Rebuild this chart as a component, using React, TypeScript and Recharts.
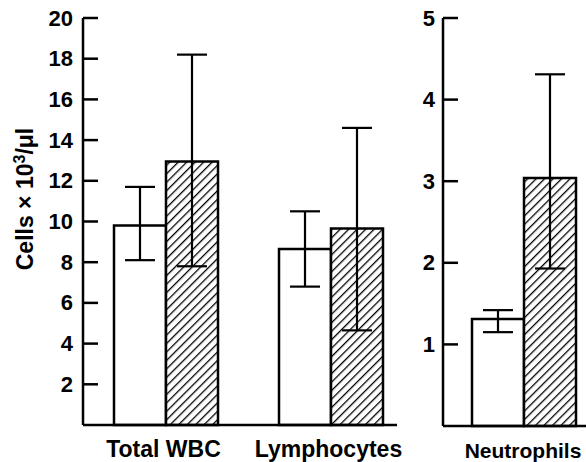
import { BarChart, Bar, XAxis, YAxis, ErrorBar } from 'recharts';

// left panel (x 10^3/µl)
const leftCategories = ['Total WBC', 'Lymphocytes'];
const leftControlMean = [9.8, 8.65];
const leftControlLow = [8.1, 6.8];
const leftControlHigh = [11.7, 10.5];
const leftTreatedMean = [12.95, 9.65];
const leftTreatedLow = [7.8, 4.65];
const leftTreatedHigh = [18.2, 14.6];
const leftTicks = [2, 4, 6, 8, 10, 12, 14, 16, 18, 20];

// right panel
const rightCategories = ['Neutrophils'];
const rightControlMean = [1.31];
const rightControlLow = [1.15];
const rightControlHigh = [1.42];
const rightTreatedMean = [3.04];
const rightTreatedLow = [1.93];
const rightTreatedHigh = [4.31];
const rightTicks = [1, 2, 3, 4, 5];

const FONT = '"Liberation Sans", Arial, Helvetica, sans-serif';

const buildRows = (
  cats: string[],
  cm: number[], cl: number[], ch: number[],
  tm: number[], tl: number[], th: number[]
) =>
  cats.map((name, i) => ({
    name,
    control: cm[i],
    controlErr: [cm[i] - cl[i], ch[i] - cm[i]],
    treated: tm[i],
    treatedErr: [tm[i] - tl[i], th[i] - tm[i]],
  }));

const leftData = buildRows(leftCategories, leftControlMean, leftControlLow, leftControlHigh, leftTreatedMean, leftTreatedLow, leftTreatedHigh);
const rightData = buildRows(rightCategories, rightControlMean, rightControlLow, rightControlHigh, rightTreatedMean, rightTreatedLow, rightTreatedHigh);

const makeYTick = (gap: number) => (props: any) => {
  const { x, y, payload } = props;
  return (
    <g>
      <line x1={x} y1={y} x2={x + 15} y2={y} stroke="#000" strokeWidth={2.5} />
      <text x={x - gap} y={y} dy={7.5} textAnchor="end" fontFamily={FONT} fontWeight="bold" fontSize={22} fill="#000">
        {payload.value}
      </text>
    </g>
  );
};

const makeXTick = (shift: number, size: number) => (props: any) => {
  const { x, y, payload } = props;
  return (
    <text x={x + shift} y={y + 32} textAnchor="middle" fontFamily={FONT} fontWeight="bold" fontSize={size} fill="#000">
      {payload.value}
    </text>
  );
};

const Hatch = ({ id }: { id: string }) => (
  <defs>
    <pattern id={id} patternUnits="userSpaceOnUse" width={6} height={6} patternTransform="rotate(45)">
      <rect width={6} height={6} fill="#fff" />
      <line x1={0} y1={0} x2={0} y2={6} stroke="#000" strokeWidth={2.6} />
    </pattern>
  </defs>
);

const Panel = ({ data, id, width, height, margin, yWidth, domain, ticks, gap, padding, shift, labelSize }: any) => (
  <BarChart width={width} height={height} data={data} margin={margin} barGap={0} barSize={52} style={{ overflow: 'visible' }}>
    <Hatch id={id} />
    <XAxis
      dataKey="name"
      height={30}
      padding={padding}
      axisLine={{ stroke: '#000', strokeWidth: 2.5 }}
      tickLine={false}
      tickSize={0}
      tickMargin={0}
      tick={makeXTick(shift, labelSize)}
      interval={0}
    />
    <YAxis
      width={yWidth}
      domain={domain}
      ticks={ticks}
      axisLine={{ stroke: '#000', strokeWidth: 2.5 }}
      tickLine={false}
      tickSize={0}
      tickMargin={0}
      tick={makeYTick(gap)}
      interval={0}
    />
    <Bar dataKey="control" fill="#fff" stroke="#000" strokeWidth={2.5} isAnimationActive={false}>
      <ErrorBar dataKey="controlErr" width={15} stroke="#000" strokeWidth={2.2} />
    </Bar>
    <Bar dataKey="treated" fill={`url(#${id})`} stroke="#000" strokeWidth={2.5} isAnimationActive={false}>
      <ErrorBar dataKey="treatedErr" width={15} stroke="#000" strokeWidth={2.2} />
    </Bar>
  </BarChart>
);

export default function App() {
  return (
    <div style={{ position: 'absolute', left: 0, top: 0, width: 586, height: 462, background: '#fff', overflow: 'hidden' }}>
      <div style={{ position: 'absolute', left: 0, top: 0 }}>
        <Panel
          data={leftData}
          id="hatchLeft"
          width={420}
          height={462}
          margin={{ top: 18, right: 23, bottom: 7, left: 23 }}
          yWidth={60}
          domain={[0, 20]}
          ticks={leftTicks}
          gap={10}
          padding={{ left: 0, right: -16 }}
          shift={-2}
          labelSize={23}
        />
      </div>
      <div style={{ position: 'absolute', left: 400, top: 0 }}>
        <Panel
          data={rightData}
          id="hatchRight"
          width={186}
          height={462}
          margin={{ top: 18, right: 0, bottom: 6, left: 13 }}
          yWidth={30}
          domain={[0, 5]}
          ticks={rightTicks}
          gap={8}
          padding={{ left: 19, right: 0 }}
          shift={-1}
          labelSize={21}
        />
      </div>
      <svg width={60} height={462} style={{ position: 'absolute', left: 0, top: 0 }}>
        <text
          x={33}
          y={199}
          transform="rotate(-90, 33, 199)"
          textAnchor="middle"
          fontFamily={FONT}
          fontWeight="bold"
          fontSize={23}
          fill="#000"
        >
          Cells × 10<tspan dy={-8} fontSize={16}>3</tspan><tspan dy={8}>/μl</tspan>
        </text>
      </svg>
    </div>
  );
}
